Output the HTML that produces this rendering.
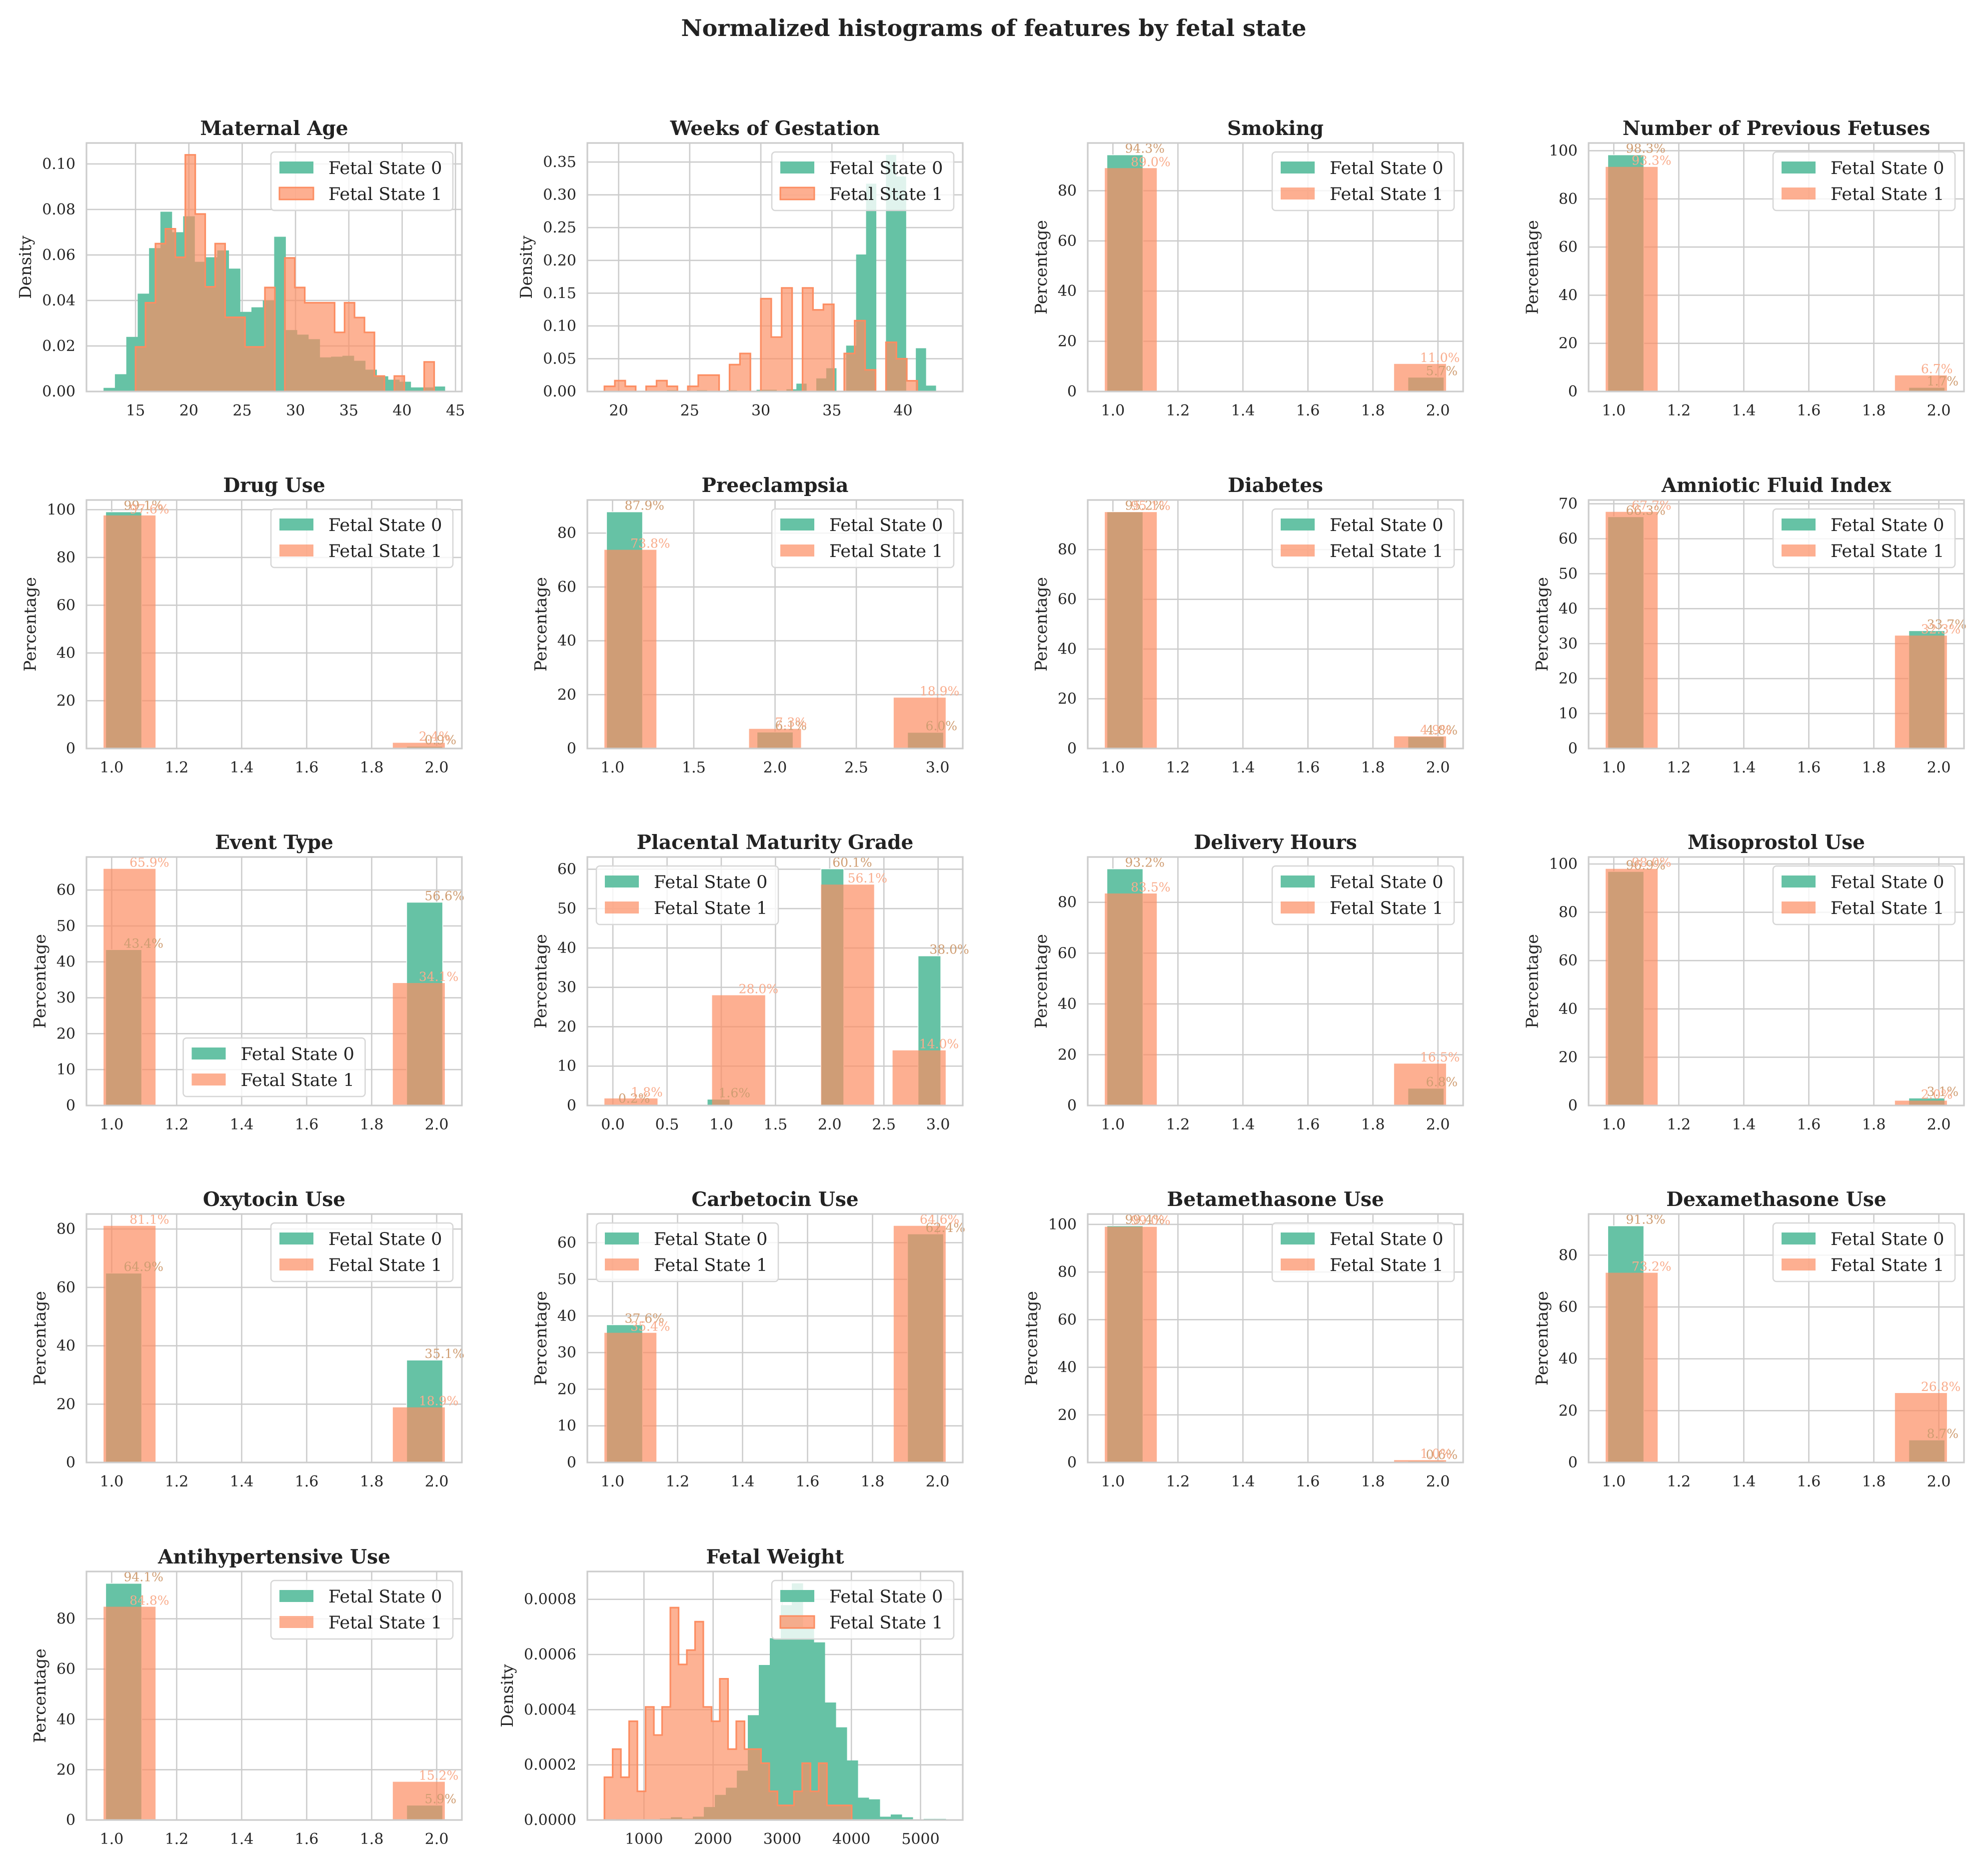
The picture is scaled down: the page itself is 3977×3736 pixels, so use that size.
<!DOCTYPE html>
<html><head><meta charset="utf-8">
<style>
html,body{margin:0;padding:0;background:#fff;}
svg{display:block;font-family:"DejaVu Serif","Liberation Serif",serif;}
</style></head>
<body>
<svg id="fig" xmlns="http://www.w3.org/2000/svg" width="3977" height="3736" viewBox="0 0 3977 3736">
<rect x="0" y="0" width="3977" height="3736" fill="#fff"/>
<text x="1988" y="72" text-anchor="middle" font-size="46" font-weight="bold" fill="#222">Normalized histograms of features by fetal state</text>
</svg>
<script>
// ---------- continuous data ----------
const ageStart0 = 12, ageWidth0 = 32/30;
const ageDensity0 = [0.0016,0.0076,0.024,0.043,0.063,0.079,0.070,0.077,0.057,0.059,0.062,0.054,0.035,0.037,0.040,0.068,0.027,0.025,0.023,0.015,0.0153,0.0157,0.0135,0.0096,0.0067,0.0052,0.0043,0.0018,0.0018,0.0022];
const ageStart1 = 15, ageWidth1 = 28/30;
const ageDensity1 = [0.0196,0.039,0.065,0.0715,0.059,0.104,0.078,0.046,0.065,0.0326,0.0326,0.0196,0.0196,0.0457,0,0.0587,0.0457,0.039,0.039,0.039,0.026,0.039,0.0325,0.026,0.0068,0,0.0068,0,0,0.013];
const weeksStart0 = 22, weeksWidth0 = 0.7;
const weeksDensity0 = [0,0,0.002,0,0,0.002,0,0,0.002,0,0,0.0026,0.0026,0,0.0034,0.012,0,0.02,0.0355,0,0.07,0.209,0.317,0,0.361,0.328,0,0.066,0.009,0.001];
const weeksStart1 = 19, weeksWidth1 = 22/30;
const weeksDensity1 = [0.0079,0.0166,0.0079,0,0.0079,0.0166,0.0079,0,0.0079,0.025,0.025,0,0.041,0.058,0,0.1416,0.083,0.158,0,0.158,0.1245,0.133,0,0.058,0.108,0.033,0,0.075,0.05,0.0163];
const weightStart0 = 594, weightWidth0 = 159;
const weightDensity0 = [0.000003,0,0,0,0.000005,0.00001,0.000005,0.000012,0.000047,0.000091,0.000117,0.000179,0.00038,0.000562,0.000659,0.000779,0.000858,0.0007,0.000644,0.000426,0.000336,0.000216,0.000081,0.000075,0.000012,0.00002,0.00001,0,0.000004,0.000004];
const weightStart1 = 428, weightWidth1 = 119.2;
const weightDensity1 = [0.000155,0.000257,0.000155,0.000358,0.000104,0.00041,0.000308,0.00041,0.00077,0.000564,0.000616,0.000719,0.00041,0.000358,0.000512,0.000257,0.000358,0.000257,0.000257,0.000206,0.000104,0.000053,0.000053,0.000104,0.000206,0.000104,0.000206,0.000053,0.000053,0.000053];

// ---------- categorical data (percentages) ----------
const binaryCats = [1,2];
const threeCats = [1,2,3];
const gradeCats = [0,1,2,3];
const smoking0 = [94.3,5.7], smoking1 = [89.0,11.0];
const prevFetuses0 = [98.3,1.7], prevFetuses1 = [93.3,6.7];
const drugUse0 = [99.1,0.9], drugUse1 = [97.6,2.4];
const preeclampsia0 = [87.9,6.1,6.0], preeclampsia1 = [73.8,7.3,18.9];
const diabetes0 = [95.2,4.8], diabetes1 = [95.1,4.9];
const amniotic0 = [66.3,33.7], amniotic1 = [67.7,32.3];
const eventType0 = [43.4,56.6], eventType1 = [65.9,34.1];
const placental0 = [0.2,1.6,60.1,38.0], placental1 = [1.8,28.0,56.1,14.0];
const delivery0 = [93.2,6.8], delivery1 = [83.5,16.5];
const misoprostol0 = [96.9,3.1], misoprostol1 = [98.0,2.0];
const oxytocin0 = [64.9,35.1], oxytocin1 = [81.1,18.9];
const carbetocin0 = [37.6,62.4], carbetocin1 = [35.4,64.6];
const betamethasone0 = [99.4,0.6], betamethasone1 = [99.0,1.0];
const dexamethasone0 = [91.3,8.7], dexamethasone1 = [73.2,26.8];
const antihyper0 = [94.1,5.9], antihyper1 = [84.8,15.2];

const panels = [
 {t:'Maternal Age', type:'cont', s0:ageStart0,w0:ageWidth0,d0:ageDensity0,s1:ageStart1,w1:ageWidth1,d1:ageDensity1, xs:5, ys:0.02, ydec:2},
 {t:'Weeks of Gestation', type:'cont', s0:weeksStart0,w0:weeksWidth0,d0:weeksDensity0,s1:weeksStart1,w1:weeksWidth1,d1:weeksDensity1, xs:5, ys:0.05, ydec:2},
 {t:'Smoking', cats:binaryCats, g:smoking0, o:smoking1},
 {t:'Number of Previous Fetuses', cats:binaryCats, g:prevFetuses0, o:prevFetuses1},
 {t:'Drug Use', cats:binaryCats, g:drugUse0, o:drugUse1},
 {t:'Preeclampsia', cats:threeCats, g:preeclampsia0, o:preeclampsia1},
 {t:'Diabetes', cats:binaryCats, g:diabetes0, o:diabetes1},
 {t:'Amniotic Fluid Index', cats:binaryCats, g:amniotic0, o:amniotic1},
 {t:'Event Type', cats:binaryCats, g:eventType0, o:eventType1, leg:'lc'},
 {t:'Placental Maturity Grade', cats:gradeCats, g:placental0, o:placental1, leg:'ul', special:true},
 {t:'Delivery Hours', cats:binaryCats, g:delivery0, o:delivery1},
 {t:'Misoprostol Use', cats:binaryCats, g:misoprostol0, o:misoprostol1},
 {t:'Oxytocin Use', cats:binaryCats, g:oxytocin0, o:oxytocin1},
 {t:'Carbetocin Use', cats:binaryCats, g:carbetocin0, o:carbetocin1, leg:'ul'},
 {t:'Betamethasone Use', cats:binaryCats, g:betamethasone0, o:betamethasone1},
 {t:'Dexamethasone Use', cats:binaryCats, g:dexamethasone0, o:dexamethasone1},
 {t:'Antihypertensive Use', cats:binaryCats, g:antihyper0, o:antihyper1},
 {t:'Fetal Weight', type:'cont', s0:weightStart0,w0:weightWidth0,d0:weightDensity0,s1:weightStart1,w1:weightWidth1,d1:weightDensity1, xs:1000, ys:0.0002, ydec:4}
];

const NS='http://www.w3.org/2000/svg';
const svg=document.getElementById('fig');
function mk(tag, attrs, parent){const e=document.createElementNS(NS,tag);for(const k in attrs)e.setAttribute(k,attrs[k]);parent.appendChild(e);return e;}
const colLeft=[173,1175,2176,3178], rowTop=[286,1000,1714,2428,3143], AW=751, AH=497;
const GREEN='#66c2a5', ORANGE='#fc8d62';
function slug(s){return s.toLowerCase().replace(/[^a-z0-9]+/g,'-');}

panels.forEach((p,i)=>{
  const L=colLeft[i%4], T=rowTop[Math.floor(i/4)], R=L+AW, B=T+AH;
  const g=mk('g',{},svg);
  
  
  let xmin,xmax,ymax,xticks=[],yticks=[],xfmt,yfmt;
  let bars0=[],bars1=[];
  if(p.type==='cont'){
    const e0=p.s0+p.w0*p.d0.length, e1=p.s1+p.w1*p.d1.length;
    const lo=Math.min(p.s0,p.s1), hi=Math.max(e0,e1);
    xmin=lo-(hi-lo)*0.05; xmax=hi+(hi-lo)*0.05;
    ymax=Math.max(...p.d0,...p.d1)*1.05;
    for(let v=Math.ceil(xmin/p.xs)*p.xs; v<=xmax+1e-9; v+=p.xs) xticks.push(v);
    for(let k=0; k*p.ys<=ymax+1e-12; k++) yticks.push(k*p.ys);
    xfmt=v=>String(Math.round(v)); yfmt=v=>v.toFixed(p.ydec);
  } else {
    const a=Math.min(...p.cats), b=Math.max(...p.cats), Rg=b-a;
    p.cats.forEach((v,k)=>{
      let gc,gw,oc,ow;
      if(p.special){
        gw=0.21; ow=0.49;
        gc=[0.05,0.975,2.025,2.92][k]; oc=[0.167,1.16,2.165,2.825][k];
      } else {
        const t=(v-a)/Rg;
        gc=v+0.037*Rg*(1-2*t); gw=0.111*Rg;
        oc=v+0.055*Rg*(1-2*t); ow=0.16*Rg;
      }
      bars0.push([gc-gw/2,gc+gw/2,p.g[k],gc]);
      bars1.push([oc-ow/2,oc+ow/2,p.o[k],oc]);
    });
    const lo=Math.min(...bars0.map(d=>d[0]),...bars1.map(d=>d[0]));
    const hi=Math.max(...bars0.map(d=>d[1]),...bars1.map(d=>d[1]));
    xmin=lo-(hi-lo)*0.05; xmax=hi+(hi-lo)*0.05;
    ymax=Math.max(...p.g,...p.o)*1.05;
    const xs=Rg>1?0.5:0.2;
    for(let k=0; a+k*xs<=b+1e-9; k++) xticks.push(a+k*xs);
    const ys=ymax>=75?20:10;
    for(let v=0; v<=ymax+1e-9; v+=ys) yticks.push(v);
    xfmt=v=>v.toFixed(1); yfmt=v=>String(Math.round(v));
  }
  const X=v=>L+(v-xmin)/(xmax-xmin)*AW;
  const Y=v=>B-(v/ymax)*AH;
  const cid='clip'+i;
  const cp=mk('clipPath',{id:cid},g); mk('rect',{x:L,y:T,width:AW,height:AH},cp);
  xticks.forEach(v=>{const ln=mk('line',{x1:X(v),x2:X(v),y1:T,y2:B,stroke:'#cccccc','stroke-width':2.6},g);
    
    });
  yticks.forEach(v=>{const ln=mk('line',{x1:L,x2:R,y1:Y(v),y2:Y(v),stroke:'#cccccc','stroke-width':2.6},g);
    
    });
  const plot=mk('g',{'clip-path':'url(#'+cid+')'},g);
  if(p.type==='cont'){
    p.d0.forEach((d,k)=>{ if(d<=0) return;
      const x0=X(p.s0+k*p.w0), x1=X(p.s0+(k+1)*p.w0);
      const r=mk('rect',{x:x0,y:Y(d),width:x1-x0+0.6,height:B-Y(d),fill:GREEN},plot);
      
      });
    let dpath='M'+X(p.s1)+','+B;
    p.d1.forEach((d,k)=>{const x0=X(p.s1+k*p.w1), x1=X(p.s1+(k+1)*p.w1);dpath+=' L'+x0+','+Y(d)+' L'+x1+','+Y(d);});
    dpath+=' L'+X(p.s1+p.d1.length*p.w1)+','+B+' Z';
    const fp=mk('path',{d:dpath,fill:ORANGE,'fill-opacity':0.68,stroke:ORANGE,'stroke-width':3.2,'stroke-linejoin':'miter'},plot);
    
    
  } else {
    bars0.forEach(d=>{const r=mk('rect',{x:X(d[0]),y:Y(d[2]),width:X(d[1])-X(d[0]),height:B-Y(d[2]),fill:GREEN,stroke:'#fff','stroke-width':1.5},plot);
      
      });
    bars1.forEach(d=>{const r=mk('rect',{x:X(d[0]),y:Y(d[2]),width:X(d[1])-X(d[0]),height:B-Y(d[2]),fill:ORANGE,'fill-opacity':0.7},plot);
      
      });
    bars0.forEach(d=>{const tx=mk('text',{x:X(d[3]),y:Y(d[2])-4,'font-size':25,fill:'#cf9d72'},g);
      tx.textContent=d[2].toFixed(1)+'%';
      
      });
    bars1.forEach(d=>{const tx=mk('text',{x:X(d[3]),y:Y(d[2])-4,'font-size':25,fill:'#f9ac8c'},g);
      tx.textContent=d[2].toFixed(1)+'%';
      
      });
  }
  const sp=mk('rect',{x:L,y:T,width:AW,height:AH,fill:'none',stroke:'#cccccc','stroke-width':3.2},g);
  
  
  xticks.forEach(v=>{const tx=mk('text',{x:X(v),y:B+48,'text-anchor':'middle','font-size':30,fill:'#262626'},g);
    tx.textContent=xfmt(v);
    
    });
  let maxW=0;
  yticks.forEach(v=>{const tx=mk('text',{x:L-22,y:Y(v)+10,'text-anchor':'end','font-size':30,fill:'#262626'},g);
    tx.textContent=yfmt(v);
    
    
    try{maxW=Math.max(maxW,tx.getComputedTextLength());}catch(e){}});
  if(!maxW) maxW=yfmt(yticks[yticks.length-1]).length*17;
  const yl=L-22-maxW-22;
  const ylab=mk('text',{x:yl,y:T+AH/2,'text-anchor':'middle','font-size':33,fill:'#262626',transform:'rotate(-90 '+yl+' '+(T+AH/2)+')'},g);
  ylab.textContent=p.type==='cont'?'Density':'Percentage';
  
  
  const tt=mk('text',{x:L+AW/2,y:T-16,'text-anchor':'middle','font-size':39,'font-weight':'bold',fill:'#222'},g);
  tt.textContent=p.t;
  
  
  const LW=364, LH=117;
  let lx=R-LW-18, ly=T+18;
  if(p.leg==='ul'){lx=L+18;}
  if(p.leg==='lc'){lx=L+AW/2-LW/2; ly=B-18-LH;}
  const lg=mk('g',{},g);
  
  
  mk('rect',{x:lx,y:ly,width:LW,height:LH,rx:7,fill:'#fff','fill-opacity':0.8,stroke:'#d6d6d6','stroke-width':2.5},lg);
  const e0=mk('rect',{x:lx+17,y:ly+19,width:68,height:24,fill:GREEN},lg);
  
  
  const e1=mk('rect',{x:lx+17,y:ly+71,width:68,height:24,fill:ORANGE,'fill-opacity':0.7},lg);
  if(p.type==='cont'){e1.setAttribute('stroke',ORANGE);e1.setAttribute('stroke-width','3');}
  
  
  const l0=mk('text',{x:lx+115,y:ly+44,'font-size':35,fill:'#222'},lg);
  l0.textContent='Fetal State 0';
  
  
  const l1=mk('text',{x:lx+115,y:ly+96,'font-size':35,fill:'#222'},lg);
  l1.textContent='Fetal State 1';
  
  
});
</script>
</body></html>
